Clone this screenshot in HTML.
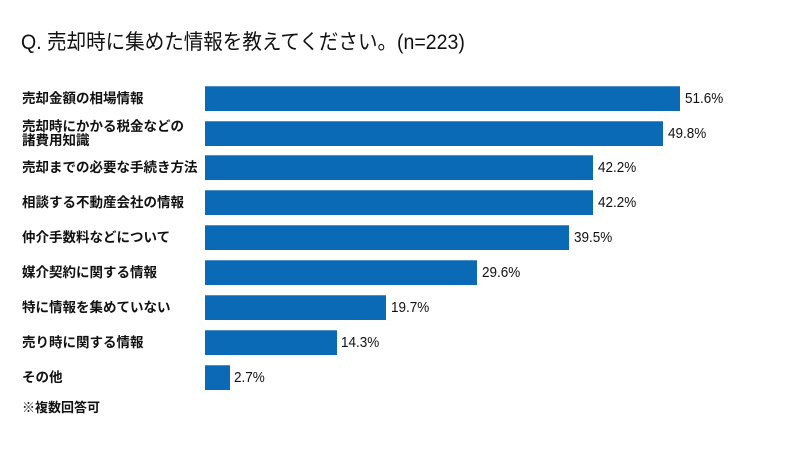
<!DOCTYPE html>
<html>
<head>
<meta charset="utf-8">
<style>
html,body{margin:0;padding:0;background:#fff;}
body{width:800px;height:450px;position:relative;overflow:hidden;font-family:"Liberation Sans","Noto Sans CJK JP",sans-serif;color:#111;}
.title{position:absolute;left:21px;top:30px;font-size:21px;line-height:26px;white-space:nowrap;transform:scaleX(0.93);transform-origin:0 0;}
.lab{position:absolute;left:22px;font-size:13.5px;font-weight:bold;line-height:14px;white-space:nowrap;display:flex;align-items:center;height:25px;}
.bar{position:absolute;left:205px;height:25px;background:#0a6ab6;box-shadow:inset 0 1px 0 #4f90c8;}
.val{position:absolute;font-size:15px;line-height:25px;height:25px;white-space:nowrap;color:#111;transform:scaleX(0.9);transform-origin:0 50%;}
.note{position:absolute;left:22px;top:400px;font-size:13px;font-weight:bold;line-height:16px;}
</style>
</head>
<body>
<div class="title">Q. 売却時に集めた情報を教えてください。(n=223)</div>

<div class="lab" style="top:86px;">売却金額の相場情報</div>
<div class="bar" style="top:86px;width:475px;"></div>
<div class="val" style="top:86px;left:685px;">51.6%</div>

<div class="lab" style="top:121px;">売却時にかかる税金などの<br>諸費用知識</div>
<div class="bar" style="top:121px;width:458px;"></div>
<div class="val" style="top:121px;left:668px;">49.8%</div>

<div class="lab" style="top:155px;">売却までの必要な手続き方法</div>
<div class="bar" style="top:155px;width:388px;"></div>
<div class="val" style="top:155px;left:598px;">42.2%</div>

<div class="lab" style="top:190px;">相談する不動産会社の情報</div>
<div class="bar" style="top:190px;width:388px;"></div>
<div class="val" style="top:190px;left:598px;">42.2%</div>

<div class="lab" style="top:225px;">仲介手数料などについて</div>
<div class="bar" style="top:225px;width:364px;"></div>
<div class="val" style="top:225px;left:574px;">39.5%</div>

<div class="lab" style="top:260px;">媒介契約に関する情報</div>
<div class="bar" style="top:260px;width:272px;"></div>
<div class="val" style="top:260px;left:482px;">29.6%</div>

<div class="lab" style="top:295px;">特に情報を集めていない</div>
<div class="bar" style="top:295px;width:181px;"></div>
<div class="val" style="top:295px;left:391px;">19.7%</div>

<div class="lab" style="top:330px;">売り時に関する情報</div>
<div class="bar" style="top:330px;width:132px;"></div>
<div class="val" style="top:330px;left:341px;">14.3%</div>

<div class="lab" style="top:365px;">その他</div>
<div class="bar" style="top:365px;width:25px;"></div>
<div class="val" style="top:365px;left:234px;">2.7%</div>

<div class="note">※複数回答可</div>
</body>
</html>
